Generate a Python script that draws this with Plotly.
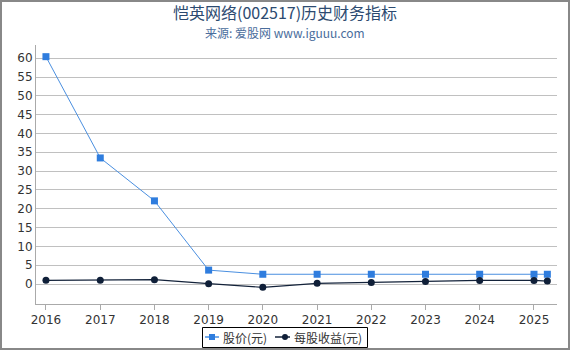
import plotly.graph_objects as go

dates = ["2016-01-01", "2017-01-01", "2018-01-01", "2019-01-01", "2020-01-01",
         "2021-01-01", "2022-01-01", "2023-01-01", "2024-01-01", "2025-01-01", "2025-04-01"]
price = [60.4, 33.5, 22.1, 3.7, 2.6, 2.6, 2.6, 2.6, 2.6, 2.6, 2.6]
eps = [1.0, 1.0, 1.15, 0.1, -0.88, 0.18, 0.4, 0.7, 0.97, 0.97, 0.8]
y_ticks = [0, 5, 10, 15, 20, 25, 30, 35, 40, 45, 50, 55, 60]
series_names = ["股价(元)", "每股收益(元)"]

title_text = "恺英网络(002517)历史财务指标"
subtitle_text = "来源: 爱股网 www.iguuu.com"

PRICE_LINE, PRICE_MARK = "#4a8fe0", "#2f7dde"
EPS_LINE, EPS_MARK = "#13223a", "#0f1f38"

W, H = 570, 350
ml, mr, mt, mb = 36, 13, 45, 46
pw, ph = W - ml - mr, H - mt - mb

def px_x(p):
    return (p - ml) / pw

def px_y(p):
    return (H - mb - p) / ph

fig = go.Figure()
fig.add_trace(go.Scatter(
    x=dates, y=price, name=series_names[0], mode="lines+markers",
    line=dict(color=PRICE_LINE, width=1),
    marker=dict(symbol="square", size=7, color=PRICE_MARK),
))
fig.add_trace(go.Scatter(
    x=dates, y=eps, name=series_names[1], mode="lines+markers",
    line=dict(color=EPS_LINE, width=1.2),
    marker=dict(symbol="circle", size=7, color=EPS_MARK),
))

# outer border
fig.add_shape(type="rect", xref="paper", yref="paper",
              x0=px_x(1), x1=px_x(569), y0=px_y(349), y1=px_y(1),
              line=dict(color="#888888", width=2), fillcolor="rgba(0,0,0,0)", layer="above")

# titles
fig.add_annotation(text=title_text, xref="paper", yref="paper",
                   x=px_x(285), y=px_y(11.8), xanchor="center", yanchor="middle",
                   showarrow=False, borderpad=0,
                   font=dict(family="Noto Sans CJK SC, DejaVu Sans", size=16, color="#2c4a70"))
fig.add_annotation(text=subtitle_text, xref="paper", yref="paper",
                   x=px_x(285), y=px_y(32), xanchor="center", yanchor="middle",
                   showarrow=False, borderpad=0,
                   font=dict(family="Noto Sans CJK SC, DejaVu Sans", size=12, color="#4a6d9c"))

# custom legend
ly = 337
fig.add_shape(type="rect", xref="paper", yref="paper",
              x0=px_x(202.5), x1=px_x(367.5), y0=px_y(347.5), y1=px_y(327.5),
              line=dict(color="#000000", width=1), fillcolor="white", layer="above")
fig.add_shape(type="line", xref="paper", yref="paper",
              x0=px_x(205), x1=px_x(219), y0=px_y(ly), y1=px_y(ly),
              line=dict(color=PRICE_LINE, width=1.5), layer="above")
fig.add_shape(type="rect", xref="paper", yref="paper",
              x0=px_x(209), x1=px_x(215), y0=px_y(ly + 3), y1=px_y(ly - 3),
              line=dict(color=PRICE_MARK, width=0), fillcolor=PRICE_MARK, layer="above")
fig.add_annotation(text=series_names[0], xref="paper", yref="paper",
                   x=px_x(221), y=px_y(ly), xanchor="left", yanchor="middle",
                   showarrow=False,
                   font=dict(family="Noto Sans CJK SC, DejaVu Sans", size=12, color="#333333"))
fig.add_shape(type="line", xref="paper", yref="paper",
              x0=px_x(275), x1=px_x(290), y0=px_y(ly), y1=px_y(ly),
              line=dict(color=EPS_LINE, width=1.5), layer="above")
fig.add_shape(type="circle", xref="paper", yref="paper",
              x0=px_x(282), x1=px_x(288), y0=px_y(ly + 3), y1=px_y(ly - 3),
              line=dict(color=EPS_MARK, width=0), fillcolor=EPS_MARK, layer="above")
fig.add_annotation(text=series_names[1], xref="paper", yref="paper",
                   x=px_x(292), y=px_y(ly), xanchor="left", yanchor="middle",
                   showarrow=False,
                   font=dict(family="Noto Sans CJK SC, DejaVu Sans", size=12, color="#333333"))

fig.update_layout(
    width=W, height=H,
    margin=dict(l=ml, r=mr, t=mt, b=mb, autoexpand=False),
    paper_bgcolor="white", plot_bgcolor="white",
    font=dict(family="DejaVu Sans, Noto Sans CJK SC", size=12, color="#333333"),
    showlegend=False,
    xaxis=dict(
        type="date", range=["2015-10-26", "2025-06-05"],
        tickformat="%Y", dtick="M12", tick0="2016-01-01",
        showgrid=False, showline=True, linecolor="#aaaaaa", linewidth=1,
        ticks="outside", ticklen=5, tickcolor="#aaaaaa",
        tickfont=dict(family="DejaVu Sans", size=12, color="#333333"),
        zeroline=False,
    ),
    yaxis=dict(
        range=[-5.3, 63.5], tickmode="array", tickvals=y_ticks,
        showgrid=True, gridcolor="#c0c0c0", gridwidth=1,
        zeroline=True, zerolinecolor="#c0c0c0", zerolinewidth=1,
        showline=True, linecolor="#aaaaaa", linewidth=1,
        ticks="", ticklen=0,
        tickfont=dict(family="DejaVu Sans", size=12, color="#333333"),
    ),
)

fig.write_html("out.html")
